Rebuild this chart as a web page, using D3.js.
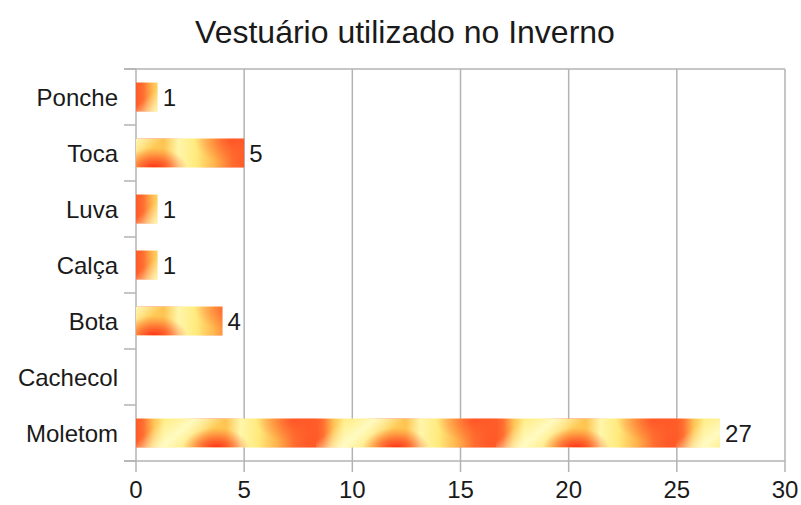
<!DOCTYPE html>
<html lang="pt">
<head>
<meta charset="utf-8">
<title>Vestuário utilizado no Inverno</title>
<script src="https://d3js.org/d3.v7.min.js"></script>
<style>
  body { margin: 0; background: #fff; font-family: "Liberation Sans", Arial, sans-serif; }
</style>
</head>
<body>
<div id="chart"></div>
<script>
var categories = ["Ponche", "Toca", "Luva", "Calça", "Bota", "Cachecol", "Moletom"]
var values = [1, 5, 1, 1, 4, 0, 27]
var xTicks = [0, 5, 10, 15, 20, 25, 30]

var W = 801, H = 505
var margin = {top: 69, right: 16, bottom: 44, left: 136}
var gridColor = "#b3b3b3"
var textColor = "#1a1a1a"

var svg = d3.select("#chart").append("svg")
    .attr("width", W)
    .attr("height", H)

var x = d3.scaleLinear()
    .domain([0, 30])
    .range([margin.left, W - margin.right])

var y = d3.scaleBand()
    .domain(categories)
    .range([margin.top, H - margin.bottom])
    .paddingInner(0.48)
    .paddingOuter(0.24)

var plotTop = margin.top, plotBottom = H - margin.bottom

// title
svg.append("text")
    .attr("x", 405)
    .attr("y", 43)
    .attr("text-anchor", "middle")
    .attr("font-size", "32px")
    .attr("fill", textColor)
    .text("Vestuário utilizado no Inverno")

// vertical grid + bottom ticks
svg.append("g")
    .selectAll("line")
    .data(xTicks)
    .join("line")
    .attr("x1", d => x(d)).attr("x2", d => x(d))
    .attr("y1", plotTop).attr("y2", plotBottom + 11)
    .attr("stroke", gridColor)
    .attr("stroke-width", 1.5)

// top and bottom frame lines
svg.append("line")
    .attr("x1", margin.left - 12).attr("x2", x(30))
    .attr("y1", plotTop).attr("y2", plotTop)
    .attr("stroke", gridColor).attr("stroke-width", 1.5)
svg.append("line")
    .attr("x1", margin.left - 12).attr("x2", x(30))
    .attr("y1", plotBottom).attr("y2", plotBottom)
    .attr("stroke", gridColor).attr("stroke-width", 1.5)

// category boundary ticks on the left axis
var step = y.step()
var bounds = d3.range(categories.length + 1).map(i => plotTop + i * step)
svg.append("g")
    .selectAll("line")
    .data(bounds)
    .join("line")
    .attr("x1", margin.left - 12).attr("x2", margin.left)
    .attr("y1", d => d).attr("y2", d => d)
    .attr("stroke", gridColor).attr("stroke-width", 1.5)

// x tick labels
svg.append("g")
    .selectAll("text")
    .data(xTicks)
    .join("text")
    .attr("x", d => x(d))
    .attr("y", 498)
    .attr("text-anchor", "middle")
    .attr("font-size", "24px")
    .attr("fill", textColor)
    .text(d => d)

// category labels
svg.append("g")
    .selectAll("text")
    .data(categories)
    .join("text")
    .attr("x", 118)
    .attr("y", d => y(d) + y.bandwidth() / 2)
    .attr("dy", "0.36em")
    .attr("text-anchor", "end")
    .attr("font-size", "24px")
    .attr("fill", textColor)
    .text(d => d)

// fiery texture, one pattern per bar so it starts at the bar's own top
var defs = svg.append("defs")
var tileW = 180, bh = y.bandwidth()

var base = defs.append("linearGradient").attr("id", "fireBase")
    .attr("x1", 0).attr("x2", 1).attr("y1", 0).attr("y2", 0)
;[[0, "#ff5a28"], [0.04, "#ff6e30"], [0.10, "#ffc456"], [0.16, "#ffee86"],
  [0.30, "#ffe470"], [0.42, "#ffcc56"], [0.50, "#ffc452"], [0.58, "#fff6aa"],
  [0.68, "#ffea7c"], [0.78, "#ffb44c"], [0.88, "#ff6c30"], [0.95, "#ff5a28"],
  [1, "#ff5a28"]].forEach(function(s){
    base.append("stop").attr("offset", s[0]).attr("stop-color", s[1])
})

var stripe = defs.append("linearGradient").attr("id", "fireStripe")
    .attr("gradientUnits", "userSpaceOnUse")
    .attr("x1", 29).attr("y1", -1).attr("x2", 55).attr("y2", 30)
stripe.append("stop").attr("offset", 0).attr("stop-color", "#fffcc8").attr("stop-opacity", 0)
stripe.append("stop").attr("offset", 0.5).attr("stop-color", "#fffcc8").attr("stop-opacity", 0.9)
stripe.append("stop").attr("offset", 1).attr("stop-color", "#fffcc8").attr("stop-opacity", 0)

var blob = defs.append("radialGradient").attr("id", "fireBlob")
blob.append("stop").attr("offset", 0).attr("stop-color", "#ff1a0e").attr("stop-opacity", 0.95)
blob.append("stop").attr("offset", 0.5).attr("stop-color", "#ff3018").attr("stop-opacity", 0.55)
blob.append("stop").attr("offset", 1).attr("stop-color", "#ff5020").attr("stop-opacity", 0)

var flare = defs.append("radialGradient").attr("id", "fireFlare")
flare.append("stop").attr("offset", 0).attr("stop-color", "#ff5226").attr("stop-opacity", 0.85)
flare.append("stop").attr("offset", 1).attr("stop-color", "#ff6a2e").attr("stop-opacity", 0)

values.forEach(function(v, i){
    // the mid-length bars start their texture further into the tile
    var phase = (v > 1 && v < 10) ? -62 : 0
    var p = defs.append("pattern")
        .attr("id", "tex" + i)
        .attr("patternUnits", "userSpaceOnUse")
        .attr("width", tileW).attr("height", bh)
        .attr("patternTransform", "translate(" + (x(0) + phase) + "," + y(categories[i]) + ")")
    p.append("rect").attr("width", tileW).attr("height", bh).attr("fill", "url(#fireBase)")
    p.append("rect").attr("width", tileW).attr("height", bh).attr("fill", "url(#fireStripe)")
    p.append("ellipse").attr("cx", 80).attr("cy", bh + 2).attr("rx", 34).attr("ry", 22)
        .attr("fill", "url(#fireBlob)")
    p.append("ellipse").attr("cx", 158).attr("cy", 2).attr("rx", 38).attr("ry", 22)
        .attr("fill", "url(#fireFlare)")
})

// bars
svg.append("g")
    .selectAll("rect")
    .data(values)
    .join("rect")
    .attr("x", x(0))
    .attr("y", (d, i) => y(categories[i]))
    .attr("width", d => x(d) - x(0))
    .attr("height", bh)
    .attr("fill", (d, i) => "url(#tex" + i + ")")

// value labels (none for zero)
svg.append("g")
    .selectAll("text")
    .data(values.map((v, i) => ({v: v, c: categories[i]})).filter(d => d.v > 0))
    .join("text")
    .attr("x", d => x(d.v) + 5)
    .attr("y", d => y(d.c) + y.bandwidth() / 2)
    .attr("dy", "0.36em")
    .attr("font-size", "24px")
    .attr("fill", textColor)
    .text(d => d.v)
</script>
</body>
</html>
